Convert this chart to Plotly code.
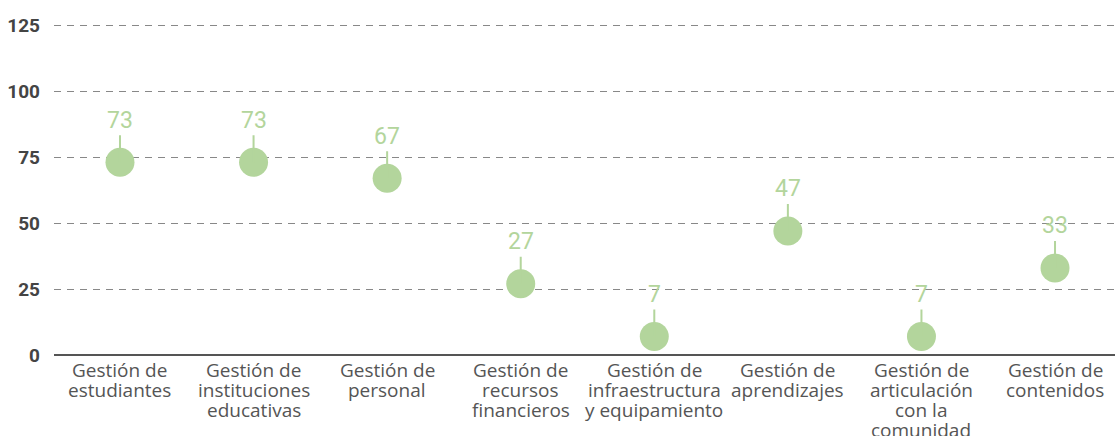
import plotly.graph_objects as go

categories = [
    "Gestión de\nestudiantes",
    "Gestión de\ninstituciones\neducativas",
    "Gestión de\npersonal",
    "Gestión de\nrecursos\nfinancieros",
    "Gestión de\ninfraestructura\ny equipamiento",
    "Gestión de\naprendizajes",
    "Gestión de\narticulación\ncon la\ncomunidad",
    "Gestión de\ncontenidos",
]
values = [73, 73, 67, 27, 7, 47, 7, 33]
y_ticks = [0, 25, 50, 75, 100, 125]

GREEN = "#b3d59c"
FONT = "Roboto"
CAT_FONT = "Open Sans"
LINE_GAP = 20

x_idx = list(range(len(categories)))

fig = go.Figure()
fig.add_trace(go.Scatter(
    x=x_idx, y=values, mode="markers",
    marker=dict(size=29, color=GREEN, line=dict(width=0)),
    hoverinfo="skip", showlegend=False,
))

# value labels with a short connector line down to the dot
for xi, v in zip(x_idx, values):
    fig.add_annotation(
        x=xi, y=v, text=str(v), showarrow=True, arrowhead=0,
        arrowwidth=2, arrowcolor=GREEN, ax=0, ay=-42, standoff=0,
        font=dict(family=FONT, size=23, color=GREEN),
    )

# category labels (one annotation per line for tight line spacing)
for xi, cat in zip(x_idx, categories):
    for i, line in enumerate(cat.split("\n")):
        fig.add_annotation(
            x=xi, xref="x", y=0, yref="paper", text=line, showarrow=False,
            xanchor="center", yanchor="middle", yshift=-(15 + LINE_GAP * i),
            font=dict(family=CAT_FONT, size=19, color="#555555"),
        )

fig.update_layout(
    width=1115, height=436,
    margin=dict(l=54, r=0, t=24, b=81),
    paper_bgcolor="white", plot_bgcolor="white",
    font=dict(family=FONT, color="#555555"),
    xaxis=dict(
        range=[-0.494, 7.449], tickmode="array", tickvals=x_idx,
        showticklabels=False, showgrid=False, zeroline=False,
        showline=False, ticks="", automargin=False, fixedrange=True,
    ),
    yaxis=dict(
        range=[0, 125.4], tickmode="array", tickvals=y_ticks,
        ticktext=[str(t) for t in y_ticks],
        showgrid=True, gridcolor="#888888", gridwidth=1, griddash="7px,6px",
        zeroline=True, zerolinecolor="#555555", zerolinewidth=1.5,
        showline=False, ticks="", ticklabelstandoff=13, automargin=False,
        tickfont=dict(family=FONT, size=19, color="#444444", weight="bold"),
        fixedrange=True,
    ),
    hovermode=False,
)

fig.write_html(
    "out.html",
    config={"displayModeBar": False},
    post_script="document.body.style.margin='0';document.body.style.overflow='hidden';",
)
